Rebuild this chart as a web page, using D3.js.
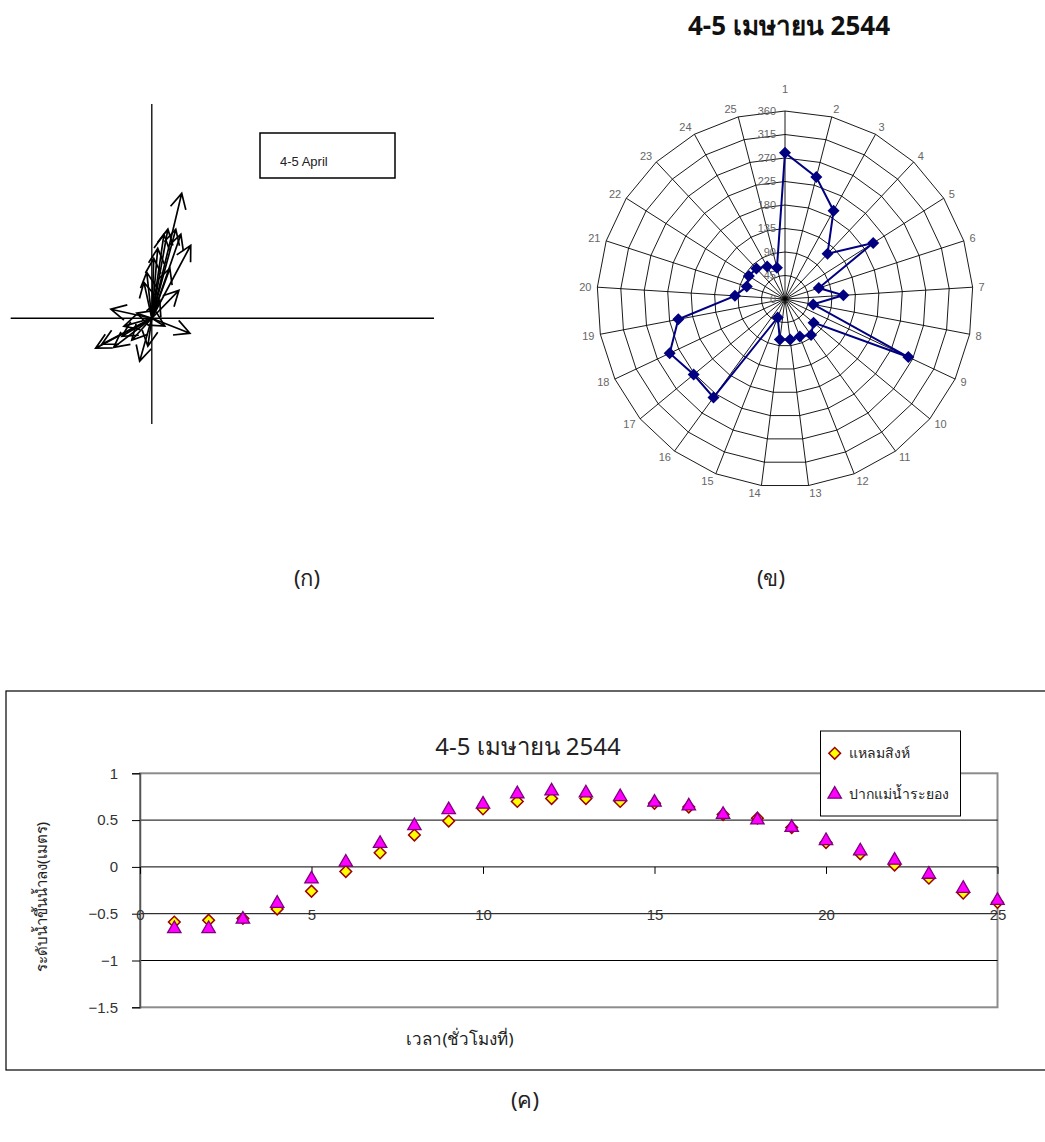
<!DOCTYPE html>
<html>
<head>
<meta charset="utf-8">
<script src="https://cdn.jsdelivr.net/npm/d3@7"></script>
<style>
body{margin:0;background:#fff;}
text{font-family:"Noto Sans","DejaVu Sans",sans-serif;}
.lat{font-family:"Liberation Sans",Arial,sans-serif;}
</style>
</head>
<body>
<script>
const W=1045, H=1142;

const hours=[1,2,3,4,5,6,7,8,9,10,11,12,13,14,15,16,17,18,19,20,21,22,23,24,25];

// (ก) current vectors, m/s (east, north)
const stickU=[-0.199,-0.177,-0.135,-0.043,0.135,0.021,0.043,0.085,0.057,0.106,0.103,0.138,0.064,0.096,0.007,-0.018,-0.028,-0.145,-0.099,-0.071,-0.106,-0.014,0.046,0.028,-0.053];
const stickV=[-0.106,-0.092,-0.103,-0.152,-0.053,0.248,0.298,0.316,0.316,0.443,0.298,0.259,0.177,0.099,0.213,0.163,0.128,0.032,-0.028,-0.078,-0.064,-0.099,-0.028,0.064,0.018];

// (ข) current direction (degrees)
const direction=[280,241,193,119,200,68,112,55,261,71,85,77,78,78,38,233,227,244,208,96,77,82,80,71,62];
const dirTicks=[0,45,90,135,180,225,270,315,360];

// (ค) water level (m)
const laemSing=[-0.59,-0.57,-0.55,-0.45,-0.26,-0.05,0.15,0.34,0.49,0.62,0.70,0.73,0.73,0.70,0.68,0.64,0.56,0.52,0.42,0.26,0.14,0.02,-0.12,-0.28,-0.38];
const rayong=[-0.66,-0.66,-0.56,-0.39,-0.13,0.05,0.25,0.44,0.61,0.67,0.78,0.81,0.79,0.75,0.69,0.65,0.56,0.50,0.42,0.28,0.17,0.07,-0.08,-0.23,-0.36];
const levelTicks=[-1.5,-1,-0.5,0,0.5,1];
const hourTicks=[0,5,10,15,20,25];

const svg=d3.select("body").append("svg")
  .attr("width",W).attr("height",H)
  .style("background","#fff");

// ---------- (ก) stick plot ----------
const sx=d3.scaleLinear().domain([-0.5,1]).range([10.7,434]);
const sy=d3.scaleLinear().domain([-0.375,0.76]).range([424,104]);
const stick=svg.append("g");

stick.append("line").attr("x1",sx(-0.5)).attr("x2",sx(1)).attr("y1",sy(0)).attr("y2",sy(0))
  .attr("stroke","#000").attr("stroke-width",1.3);
stick.append("line").attr("x1",sx(0)).attr("x2",sx(0)).attr("y1",sy(-0.375)).attr("y2",sy(0.76))
  .attr("stroke","#000").attr("stroke-width",1.3);

stick.selectAll(".arrow").data(hours).enter().append("path")
  .attr("class","arrow")
  .attr("fill","none").attr("stroke","#000").attr("stroke-width",1.7)
  .attr("d",(d,i)=>{
    const x0=sx(0), y0=sy(0), x1=sx(stickU[i]), y1=sy(stickV[i]);
    const a=Math.atan2(y1-y0,x1-x0), L=17, h=0.48;
    return `M${x0},${y0}L${x1},${y1}`+
      `M${x1-L*Math.cos(a-h)},${y1-L*Math.sin(a-h)}L${x1},${y1}L${x1-L*Math.cos(a+h)},${y1-L*Math.sin(a+h)}`;
  });

stick.append("rect").attr("x",260).attr("y",133).attr("width",135).attr("height",45)
  .attr("fill","#fff").attr("stroke","#000").attr("stroke-width",1.5);
stick.append("text").attr("class","lat").attr("x",280).attr("y",166).attr("font-size",13).attr("fill","#222").text("4-5 April");

svg.append("text").attr("x",307).attr("y",586).attr("text-anchor","middle")
  .attr("font-size",22).attr("fill","#222").text("(ก)");

// ---------- (ข) radar ----------
const cx=785, cy=299, R=188;
const rScale=d3.scaleLinear().domain([0,360]).range([0,R]);
const ang=d3.scaleLinear().domain([0,hours.length]).range([0,2*Math.PI]);
const pt=(i,v)=>[cx+rScale(v)*Math.sin(ang(i)), cy-rScale(v)*Math.cos(ang(i))];
const radar=svg.append("g");

radar.append("text").attr("x",789).attr("y",35).attr("text-anchor","middle")
  .attr("font-size",26).attr("font-weight","bold").attr("fill","#111").text("4-5 เมษายน 2544");

radar.selectAll(".ring").data(dirTicks.slice(1)).enter().append("path")
  .attr("class","ring").attr("fill","none").attr("stroke","#000").attr("stroke-width",0.9)
  .attr("d",t=>d3.line().curve(d3.curveLinearClosed)(hours.map((h,i)=>pt(i,t))));

radar.selectAll(".spoke").data(hours).enter().append("line")
  .attr("class","spoke").attr("stroke","#000").attr("stroke-width",0.9)
  .attr("x1",cx).attr("y1",cy)
  .attr("x2",(h,i)=>pt(i,360)[0]).attr("y2",(h,i)=>pt(i,360)[1]);

radar.selectAll(".vlab").data(dirTicks).enter().append("text")
  .attr("class","vlab lat").attr("x",cx-9).attr("y",t=>cy-rScale(t)).attr("dy","0.35em")
  .attr("text-anchor","end").attr("font-size",11).attr("fill","#666").text(t=>t);

radar.selectAll(".clab").data(hours).enter().append("text")
  .attr("class","clab lat").attr("font-size",11).attr("fill","#666")
  .attr("x",(h,i)=>pt(i,360)[0]+6*Math.sin(ang(i)))
  .attr("y",(h,i)=>i===0?cy-R-22:pt(i,360)[1]-8*Math.cos(ang(i)))
  .attr("dy","0.35em")
  .attr("text-anchor",(h,i)=>{const s=Math.sin(ang(i));return Math.abs(s)<0.05?"middle":(s>0?"start":"end");})
  .text(h=>h);

radar.append("path")
  .attr("fill","none").attr("stroke","#000080").attr("stroke-width",2)
  .attr("d",d3.line().curve(d3.curveLinearClosed)(direction.map((v,i)=>pt(i,v))));

radar.selectAll(".mk").data(direction).enter().append("path")
  .attr("class","mk").attr("fill","#000080")
  .attr("transform",(v,i)=>`translate(${pt(i,v)}) rotate(45)`)
  .attr("d",d3.symbol(d3.symbolSquare,72));

svg.append("text").attr("x",771).attr("y",586).attr("text-anchor","middle")
  .attr("font-size",22).attr("fill","#222").text("(ข)");

// ---------- (ค) water level ----------
const x=d3.scaleLinear().domain([0,25]).range([140,997.5]);
const y=d3.scaleLinear().domain([-1.5,1]).range([1007.3,773.3]);
const lvl=svg.append("g");

lvl.append("rect").attr("x",6).attr("y",691).attr("width",1060).attr("height",379)
  .attr("fill","none").attr("stroke","#000").attr("stroke-width",1.2);

lvl.append("rect").attr("x",x(0)).attr("y",y(1)).attr("width",x(25)-x(0)).attr("height",y(-1.5)-y(1))
  .attr("fill","none").attr("stroke","#8c8c8c").attr("stroke-width",2);

lvl.selectAll(".grid").data([-1,-0.5,0,0.5]).enter().append("line")
  .attr("class","grid").attr("stroke","#000").attr("stroke-width",1)
  .attr("x1",x(0)).attr("x2",x(25)).attr("y1",d=>y(d)).attr("y2",d=>y(d));

const yAxis=lvl.append("g").attr("transform",`translate(${x(0)},0)`)
  .call(d3.axisLeft(y).tickValues(levelTicks).tickSize(8).tickPadding(14).tickFormat(d3.format("")));
yAxis.select(".domain").attr("stroke","#555").attr("stroke-width",1.5);
yAxis.selectAll("text").attr("class","lat").attr("font-size",15).attr("fill","#333");

const xAxis=lvl.append("g").attr("transform",`translate(0,${y(0)})`)
  .call(d3.axisBottom(x).tickValues(hourTicks).tickSize(7));
xAxis.select(".domain").remove();
xAxis.selectAll("text").attr("class","lat").attr("y",42).attr("font-size",15).attr("fill","#333");

lvl.append("text").attr("x",528).attr("y",755).attr("text-anchor","middle")
  .attr("font-size",24).attr("fill","#222").text("4-5 เมษายน 2544");

lvl.append("text").attr("transform","translate(47,897) rotate(-90)").attr("text-anchor","middle")
  .attr("font-size",15).attr("fill","#222").text("ระดับน้ำขึ้นน้ำลง(เมตร)");
lvl.append("text").attr("x",460).attr("y",1045).attr("text-anchor","middle")
  .attr("font-size",17).attr("fill","#222").text("เวลา(ชั่วโมงที่)");

const diamond=d3.symbol(d3.symbolSquare,68);
const tri=d3.symbol(d3.symbolTriangle,78);

lvl.selectAll(".ls").data(laemSing).enter().append("path")
  .attr("class","ls").attr("fill","#ffff00").attr("stroke","#990000").attr("stroke-width",1.5)
  .attr("transform",(v,i)=>`translate(${x(hours[i])},${y(v)}) rotate(45)`).attr("d",diamond);

lvl.selectAll(".ry").data(rayong).enter().append("path")
  .attr("class","ry").attr("fill","#ff00ff").attr("stroke","#800080").attr("stroke-width",1.3)
  .attr("transform",(v,i)=>`translate(${x(hours[i])},${y(v)})`).attr("d",tri);

const leg=lvl.append("g");
leg.append("rect").attr("x",820.5).attr("y",731).attr("width",140).attr("height",85)
  .attr("fill","#fff").attr("stroke","#000").attr("stroke-width",1);
leg.append("path").attr("transform","translate(834.7,753.3) rotate(45)").attr("d",diamond)
  .attr("fill","#ffff00").attr("stroke","#990000").attr("stroke-width",1.5);
leg.append("text").attr("x",849).attr("y",758).attr("font-size",14).attr("fill","#222").text("แหลมสิงห์");
leg.append("path").attr("transform","translate(834.7,794.3)").attr("d",tri)
  .attr("fill","#ff00ff").attr("stroke","#800080").attr("stroke-width",1.3);
leg.append("text").attr("x",849).attr("y",799).attr("font-size",14).attr("fill","#222").text("ปากแม่น้ำระยอง");

svg.append("text").attr("x",525).attr("y",1108).attr("text-anchor","middle")
  .attr("font-size",22).attr("fill","#222").text("(ค)");
</script>
</body>
</html>
